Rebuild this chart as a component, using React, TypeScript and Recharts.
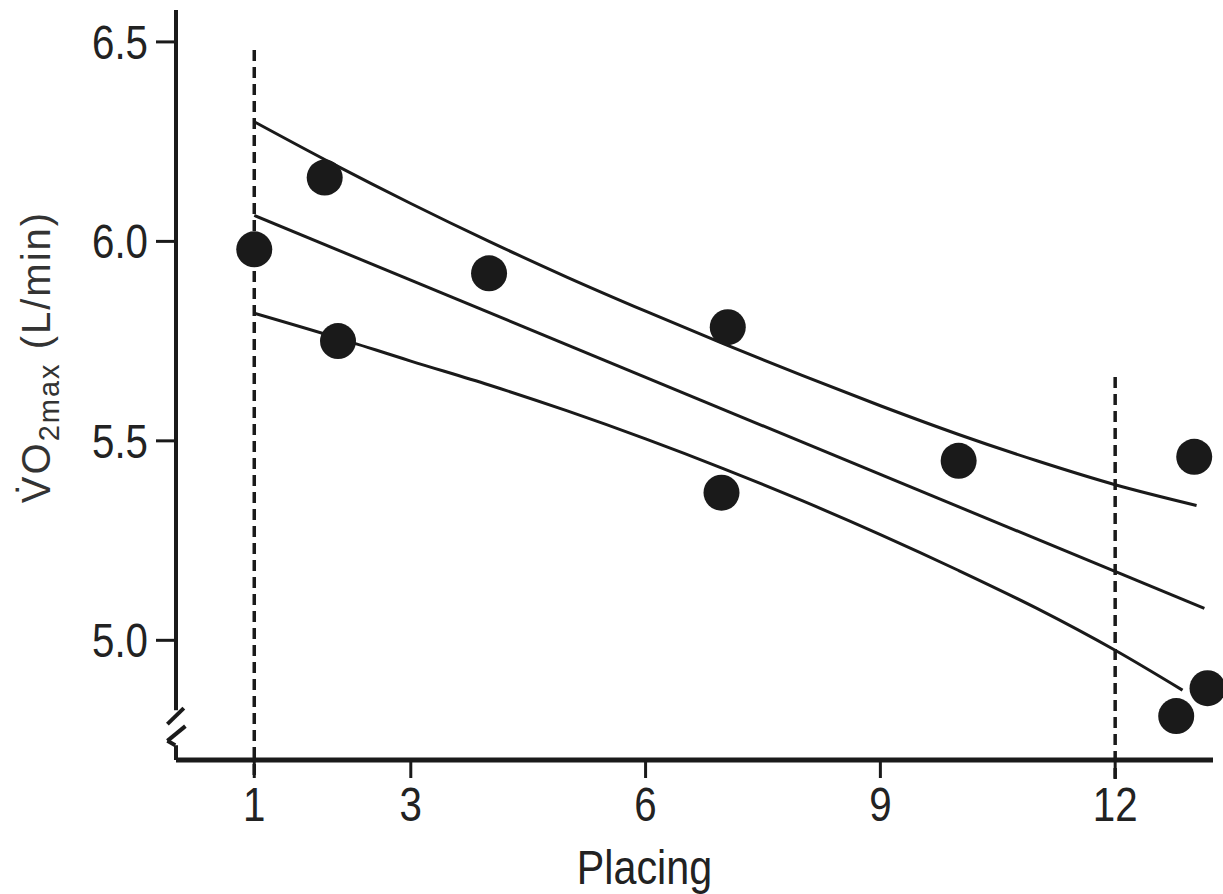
import React from 'react';
import {
  ComposedChart,
  XAxis,
  YAxis,
  Line,
  Scatter,
  ReferenceLine,
} from 'recharts';

// Platzierung vs. VO2max, Punkte und Regressionslinie mit Konfidenzband
const placings = [1, 1.9, 2.07, 4, 7.05, 6.97, 10, 13.01, 12.78, 13.18];
const vo2max = [5.98, 6.16, 5.75, 5.92, 5.785, 5.37, 5.45, 5.46, 4.81, 4.88];

const bandX = [1, 2, 3, 4, 5, 6, 7, 8, 9, 10, 11, 12, 13.04];
const upperBand = [6.3, 6.195, 6.095, 6.0, 5.91, 5.825, 5.743, 5.664, 5.588, 5.516, 5.45, 5.39, 5.338];
const lowerX = [1, 2, 3, 4, 5, 6, 7, 8, 9, 10, 11, 12, 12.86];
const lowerBand = [5.82, 5.762, 5.7, 5.64, 5.575, 5.505, 5.43, 5.35, 5.265, 5.175, 5.08, 4.975, 4.875];

const fitX = [1, 13.14];
const fitY = [6.065, 5.08];

const xTicks = [1, 3, 6, 9, 12];
const yTicks = [5.0, 5.5, 6.0, 6.5];

// gestrichelte Markierungen bei Platz 1 und 12: [x, yTop]
const markers: [number, number][] = [
  [1, 6.48],
  [12, 5.66],
];

// Achsenbruch unten an der y-Achse
const axisBreak: [number, number, number, number][] = [
  [0, 4.825, 0, 6.58],
  [0.1, 4.83, -0.11, 4.79],
  [0.12, 4.785, -0.11, 4.748],
  [-0.11, 4.748, -0.01, 4.737],
  [0, 4.737, 0, 4.7],
];

const points = placings.map((x, i) => ({ x, y: vo2max[i] }));
const upper = bandX.map((x, i) => ({ x, y: upperBand[i] }));
const lower = lowerX.map((x, i) => ({ x, y: lowerBand[i] }));
const fit = fitX.map((x, i) => ({ x, y: fitY[i] }));

const INK = '#1a1a1a';
const SANS = "'Liberation Sans', Arial, sans-serif";

const Dot = (props: any) => <circle cx={props.cx} cy={props.cy} r={18} fill={INK} />;

// schmale Schrift wie im Original: horizontal gestaucht
const XTick = ({ x, y, payload }: any) => (
  <g transform={`translate(${x},${y})`}>
    <text transform="scale(0.84,1)" textAnchor="middle" dy="0.71em" fontSize={48} fill="#222" fontFamily={SANS}>
      {payload.value}
    </text>
  </g>
);

const YTick = ({ x, y, payload }: any) => (
  <g transform={`translate(${x},${y})`}>
    <text transform="scale(0.84,1)" textAnchor="end" dy="0.355em" fontSize={48} fill="#222" fontFamily={SANS}>
      {Number(payload.value).toFixed(1)}
    </text>
  </g>
);

const YLabel = ({ viewBox }: any) => {
  const vb = viewBox ?? { x: 0, y: 10, width: 176, height: 750 };
  const cx = vb.x + 50;
  const cy = vb.y + vb.height / 2 - 28;
  return (
    <text
      x={cx}
      y={cy}
      transform={`rotate(-90, ${cx}, ${cy})`}
      textAnchor="middle"
      fill="#333"
      fontFamily={SANS}
      fontSize={40}
      letterSpacing={2}
    >
      <tspan>V̇O</tspan>
      <tspan fontSize={29} dy={9}>2max</tspan>
      <tspan dy={-9}> (L/min)</tspan>
    </text>
  );
};

const XLabel = ({ viewBox }: any) => {
  const vb = viewBox ?? { x: 176, y: 760, width: 1037, height: 134 };
  const cx = vb.x + vb.width / 2 - 50;
  return (
    <g transform={`translate(${cx},${vb.y + vb.height - 10})`}>
      <text transform="scale(0.86,1)" textAnchor="middle" fill="#222" fontFamily={SANS} fontSize={48}>
        Placing
      </text>
    </g>
  );
};

export default function App() {
  return (
    <div style={{ position: 'absolute', left: 0, top: 0, width: 1223, height: 894, background: '#fff' }}>
      <ComposedChart
        width={1223}
        height={894}
        margin={{ top: 10, right: 10, left: 0, bottom: 0 }}
        style={{ fontFamily: SANS }}
      >
        <XAxis
          type="number"
          dataKey="x"
          domain={[0, 13.25]}
          ticks={xTicks}
          height={134}
          tickSize={18}
          tickMargin={9}
          stroke={INK}
          axisLine={{ stroke: INK, strokeWidth: 5 }}
          tickLine={{ stroke: INK, strokeWidth: 3 }}
          tick={<XTick />}
          label={{ content: (p: any) => <XLabel {...p} /> }}
        />
        <YAxis
          type="number"
          dataKey="y"
          domain={[4.7, 6.58]}
          ticks={yTicks}
          width={176}
          axisLine={false}
          tickSize={20}
          tickMargin={8}
          stroke={INK}
          tickLine={{ stroke: INK, strokeWidth: 3 }}
          tick={<YTick />}
          label={{ content: (p: any) => <YLabel {...p} /> }}
        />

        {/* y-Achse mit Bruch */}
        {axisBreak.map(([x1, y1, x2, y2], i) => (
          <ReferenceLine
            key={`ab${i}`}
            segment={[{ x: x1, y: y1 }, { x: x2, y: y2 }]}
            stroke={INK}
            strokeWidth={4}
            ifOverflow="visible"
          />
        ))}

        {/* gestrichelte Linien */}
        {markers.map(([x, yTop]) => (
          <ReferenceLine
            key={`m${x}`}
            segment={[{ x, y: yTop }, { x, y: 4.65 }]}
            stroke={INK}
            strokeWidth={3.5}
            strokeDasharray="11 6"
            ifOverflow="visible"
          />
        ))}

        <Line data={upper} dataKey="y" type="monotone" stroke={INK} strokeWidth={3} dot={false} isAnimationActive={false} />
        <Line data={fit} dataKey="y" type="linear" stroke={INK} strokeWidth={3} dot={false} isAnimationActive={false} />
        <Line data={lower} dataKey="y" type="monotone" stroke={INK} strokeWidth={3} dot={false} isAnimationActive={false} />

        <Scatter data={points} dataKey="y" shape={<Dot />} isAnimationActive={false} />
      </ComposedChart>
    </div>
  );
}
